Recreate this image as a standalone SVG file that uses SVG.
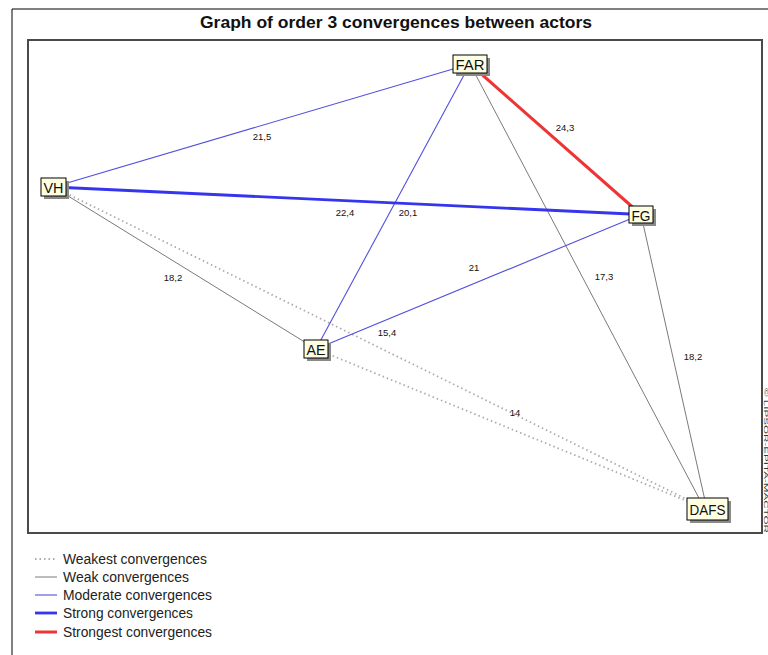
<svg xmlns="http://www.w3.org/2000/svg" width="768" height="655" viewBox="0 0 768 655">
<style>
.lbl{font-family:"Liberation Sans",Arial,sans-serif;font-size:9.5px;fill:#111;text-anchor:middle}
.ntxt{font-family:"Liberation Sans",Arial,sans-serif;font-size:15px;fill:#111;text-anchor:middle}
.leg{font-family:"Liberation Sans",Arial,sans-serif;font-size:14px;fill:#222}
.box{fill:#FFFFE4;stroke:#000;stroke-width:1}
.shadow{fill:#8a8a8a}
.weakest{stroke:#acacac;stroke-width:1.8;stroke-dasharray:1.5 3;fill:none}
.weak{stroke:#7a7a7a;stroke-width:1;fill:none}
.moderate{stroke:#5050DD;stroke-width:1.1;fill:none}
.strong{stroke:#3535EE;stroke-width:2.8;fill:none}
.strongest{stroke:#EE3535;stroke-width:3;fill:none}
</style>
<rect width="768" height="655" fill="#fff"/>
<path d="M12 655 V9 H768" fill="none" stroke="#000" stroke-width="1"/>
<text x="396" y="28" font-family="'Liberation Sans',Arial,sans-serif" font-size="17" font-weight="bold" text-anchor="middle" textLength="392" lengthAdjust="spacingAndGlyphs" fill="#111">Graph of order 3 convergences between actors</text>
<rect x="28" y="40" width="734" height="493" fill="none" stroke="#4a4a4a" stroke-width="2"/>
<text x="763.5" y="388" transform="rotate(90 763.5 388)" font-family="'Liberation Sans',Arial,sans-serif" font-size="6" fill="#333" textLength="145" lengthAdjust="spacingAndGlyphs">© LIPSOR-EPITA-MACTOR</text>
<g id="connectors">
<line class="weakest" x1="53.5" y1="187" x2="707.5" y2="509.5"/>
<line class="weakest" x1="316" y1="349" x2="707.5" y2="509.5"/>
<line class="weak" x1="53.5" y1="187" x2="316" y2="349"/>
<line class="weak" x1="470" y1="64" x2="705" y2="509.5"/>
<line class="weak" x1="641" y1="214.5" x2="707" y2="509.5"/>
<line class="moderate" x1="53.5" y1="187" x2="470" y2="64"/>
<line class="moderate" x1="316" y1="349" x2="470" y2="64"/>
<line class="moderate" x1="316" y1="349" x2="641" y2="214.5"/>
<line class="strong" x1="53.5" y1="187" x2="641" y2="214.5"/>
<line class="strongest" x1="470" y1="64" x2="641" y2="214.5"/>
<text class="lbl" x="262" y="140">21,5</text>
<text class="lbl" x="565" y="131">24,3</text>
<text class="lbl" x="345" y="216">22,4</text>
<text class="lbl" x="408" y="216">20,1</text>
<text class="lbl" x="474" y="271">21</text>
<text class="lbl" x="387" y="336">15,4</text>
<text class="lbl" x="173" y="281">18,2</text>
<text class="lbl" x="604" y="280">17,3</text>
<text class="lbl" x="693" y="360">18,2</text>
<text class="lbl" x="515" y="416">14</text>
</g>
<g id="node-FAR">
<rect class="shadow" x="456" y="58" width="34" height="18"/>
<rect class="box" x="453" y="55" width="34" height="18"/>
<text class="ntxt" x="470" y="70" textLength="29" lengthAdjust="spacingAndGlyphs">FAR</text>
</g>
<g id="node-FG">
<rect class="shadow" x="632" y="209" width="24" height="17"/>
<rect class="box" x="629" y="206" width="24" height="17"/>
<text class="ntxt" x="641" y="220.5" textLength="19" lengthAdjust="spacingAndGlyphs">FG</text>
</g>
<g id="node-VH">
<rect class="shadow" x="44" y="181" width="25" height="18"/>
<rect class="box" x="41" y="178" width="25" height="18"/>
<text class="ntxt" x="53.5" y="193" textLength="20" lengthAdjust="spacingAndGlyphs">VH</text>
</g>
<g id="node-AE">
<rect class="shadow" x="307" y="343" width="24" height="18"/>
<rect class="box" x="304" y="340" width="24" height="18"/>
<text class="ntxt" x="316" y="355" textLength="19" lengthAdjust="spacingAndGlyphs">AE</text>
</g>
<g id="node-DAFS">
<rect class="shadow" x="690" y="501" width="41" height="22"/>
<rect class="box" x="687" y="498" width="41" height="22"/>
<text class="ntxt" x="707.5" y="515" textLength="36" lengthAdjust="spacingAndGlyphs">DAFS</text>
</g>
<g id="legend">
<line class="weakest" x1="35" y1="559" x2="57" y2="559"/>
<line class="weak" x1="35" y1="577" x2="57" y2="577"/>
<line class="moderate" x1="35" y1="595" x2="57" y2="595"/>
<line class="strong" x1="35" y1="613" x2="57" y2="613"/>
<line class="strongest" x1="35" y1="632" x2="57" y2="632"/>
<text class="leg" x="63" y="564" textLength="144" lengthAdjust="spacingAndGlyphs">Weakest convergences</text>
<text class="leg" x="63" y="582" textLength="126" lengthAdjust="spacingAndGlyphs">Weak convergences</text>
<text class="leg" x="63" y="600" textLength="149" lengthAdjust="spacingAndGlyphs">Moderate convergences</text>
<text class="leg" x="63" y="618" textLength="130" lengthAdjust="spacingAndGlyphs">Strong convergences</text>
<text class="leg" x="63" y="637" textLength="149" lengthAdjust="spacingAndGlyphs">Strongest convergences</text>
</g>
</svg>
